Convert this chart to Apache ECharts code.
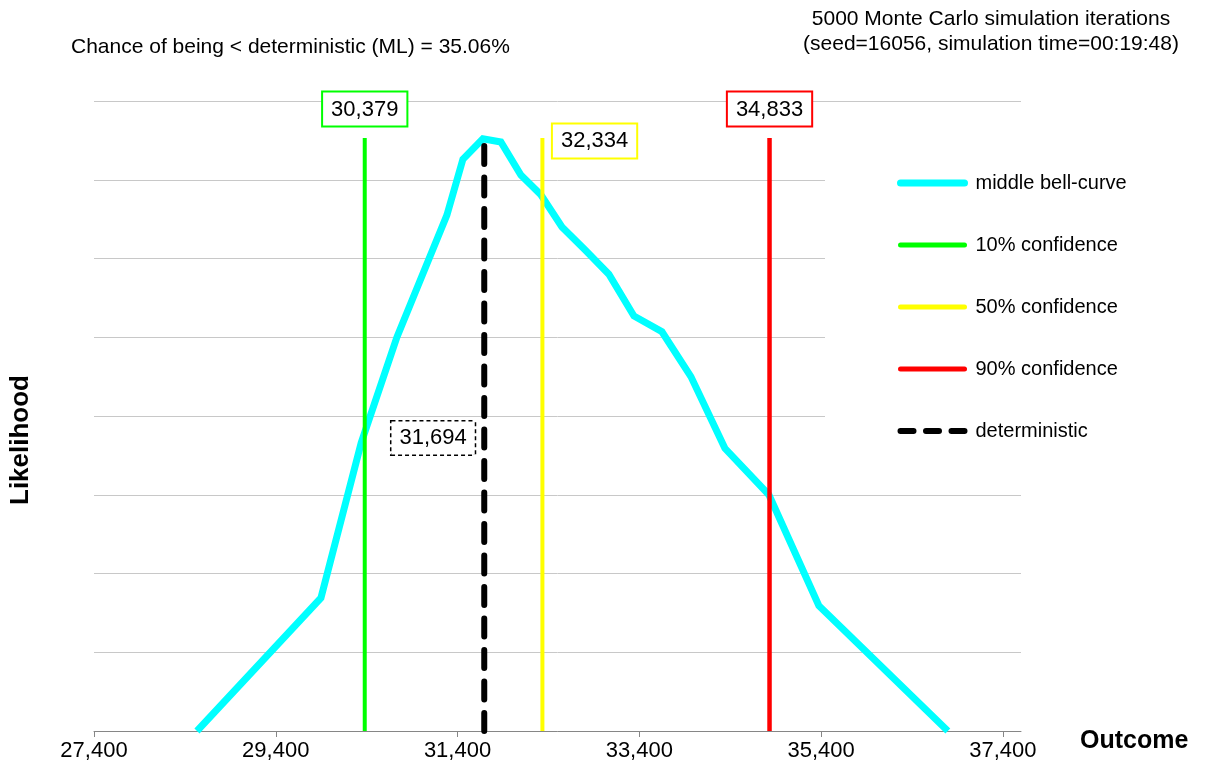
<!DOCTYPE html>
<html>
<head>
<meta charset="utf-8">
<script src="https://cdn.jsdelivr.net/npm/echarts@6/dist/echarts.min.js"></script>
<style>
html,body{margin:0;padding:0;background:#fff;}
#chart{width:1208px;height:774px;}
</style>
</head>
<body>
<div id="chart"></div>
<script>
// ---- data ----
const curveX = [28533, 29897, 30340, 30733, 31283, 31459, 31679, 31877, 32097, 32317, 32549, 32802, 33065, 33341, 33649, 33968, 34342, 34826, 35376, 36795];
const curveY = [0, 1.69, 3.66, 5.00, 6.55, 7.26, 7.52, 7.48, 7.06, 6.81, 6.40, 6.11, 5.80, 5.27, 5.07, 4.50, 3.59, 3.00, 1.59, 0];
const xTicks = [27400, 29400, 31400, 33400, 35400, 37400];
const seriesNames = ['middle bell-curve', '10% confidence', '50% confidence', '90% confidence', 'deterministic'];
const p10 = 30379, p50 = 32334, p90 = 34833, det = 31694;
const chanceText = 'Chance of being < deterministic (ML) = 35.06%';
const simText = '5000 Monte Carlo simulation iterations\n(seed=16056, simulation time=00:19:48)';

// ---- style ----
const FONT = '"Liberation Sans", Arial, Helvetica, sans-serif';
const lineTop = 7.53;   // height of the vertical marker lines
const detLabelY = 3.72; // height of the deterministic label
const fmt = v => Number(v).toLocaleString('en-US');

const curveData = curveX.map((x, i) => [x, curveY[i]]);
const vline = x => [[x, 0], [x, lineTop]];

function boxLabel(color, pos, dist, dashed, offset) {
  return {
    show: true, position: pos, distance: dist, offset: offset || [0, 0],
    formatter: p => fmt(p.value[0]), opacity: 1,
    color: '#000', fontSize: 22, fontFamily: FONT, lineHeight: 24,
    backgroundColor: '#fff', borderColor: color, borderWidth: dashed ? 1.5 : 2,
    borderType: dashed ? [4, 3] : 'solid',
    padding: [5, 8, 4, 8]
  };
}

const chart = echarts.init(document.getElementById('chart'), null, {renderer: 'canvas'});
chart.setOption({
  animation: false,
  backgroundColor: '#fff',
  grid: {left: 94, right: 187, top: 101, bottom: 43, containLabel: false},
  xAxis: {
    type: 'value', min: 27400, max: 37600, interval: 2000,
    axisLine: {show: true, lineStyle: {color: '#868686', width: 1}},
    axisTick: {show: true, length: 6, lineStyle: {color: '#868686'}, customValues: xTicks},
    axisLabel: {show: true, customValues: xTicks, formatter: fmt, color: '#000', fontSize: 22, fontFamily: FONT, margin: 9},
    splitLine: {show: false}
  },
  yAxis: {
    type: 'value', min: 0, max: 8, interval: 1,
    axisLine: {show: false}, axisTick: {show: false}, axisLabel: {show: false},
    splitLine: {show: true, lineStyle: {color: '#c8c8c8', width: 1}}
  },
  legend: {
    orient: 'vertical', left: 825, top: 150,
    padding: [23, 20, 20, 72],
    backgroundColor: '#fff',
    itemWidth: 64, itemHeight: 8, itemGap: 42,
    itemStyle: {opacity: 0},
    textStyle: {color: '#000', fontSize: 20, fontFamily: FONT, lineHeight: 20, padding: [0, 0, 0, 6]},
    data: [
      {name: seriesNames[0], lineStyle: {width: 7, cap: 'round'}},
      {name: seriesNames[1], lineStyle: {width: 5, cap: 'round'}},
      {name: seriesNames[2], lineStyle: {width: 5, cap: 'round'}},
      {name: seriesNames[3], lineStyle: {width: 5, cap: 'round'}},
      {name: seriesNames[4], lineStyle: {width: 6, type: [13, 12.5], cap: 'round'}}
    ]
  },
  series: [
    {name: seriesNames[0], type: 'line', data: curveData, symbol: 'none', z: 2,
     lineStyle: {color: '#00ffff', width: 7, join: 'miter'}, itemStyle: {color: '#00ffff'}},
    {name: seriesNames[1], type: 'line', data: vline(p10), symbol: 'none', z: 3,
     lineStyle: {color: '#00ff00', width: 4}, itemStyle: {color: '#00ff00'}},
    {name: seriesNames[2], type: 'line', data: vline(p50), symbol: 'none', z: 3,
     lineStyle: {color: '#ffff00', width: 4}, itemStyle: {color: '#ffff00'}},
    {name: seriesNames[3], type: 'line', data: vline(p90), symbol: 'none', z: 3,
     lineStyle: {color: '#ff0000', width: 4.5}, itemStyle: {color: '#ff0000'}},
    {name: seriesNames[4], type: 'line', data: vline(det), symbol: 'none', z: 4,
     lineStyle: {color: '#000', width: 6, type: [18, 13.5], cap: 'round'}, itemStyle: {color: '#000'}},
    {name: 'labels', type: 'scatter', symbolSize: 1, z: 6, silent: true,
     itemStyle: {color: 'rgba(0,0,0,0)', opacity: 1},
     data: [
       {value: [p10, lineTop], label: boxLabel('#00ff00', 'top', 12)},
       {value: [p50, lineTop], label: boxLabel('#ffff00', 'right', 10, false, [0, 3])},
       {value: [p90, lineTop], label: boxLabel('#ff0000', 'top', 12)},
       {value: [det, detLabelY], label: boxLabel('#000', 'left', 9, true)}
     ]}
  ],
  graphic: [
    {type: 'text', left: 71, top: 37, style: {text: chanceText, fill: '#000', font: '21px ' + FONT}},
    {type: 'text', x: 991, y: 7, style: {text: simText, fill: '#000', font: '21px ' + FONT, textAlign: 'center', lineHeight: 25}},
    {type: 'text', x: 1080, y: 741, style: {text: 'Outcome', fill: '#000', font: 'bold 25px ' + FONT, textVerticalAlign: 'middle'}},
    {type: 'text', x: 21, y: 440, rotation: Math.PI / 2, style: {text: 'Likelihood', fill: '#000', font: 'bold 26px ' + FONT, textAlign: 'center', textVerticalAlign: 'middle'}}
  ]
});
</script>
</body>
</html>
